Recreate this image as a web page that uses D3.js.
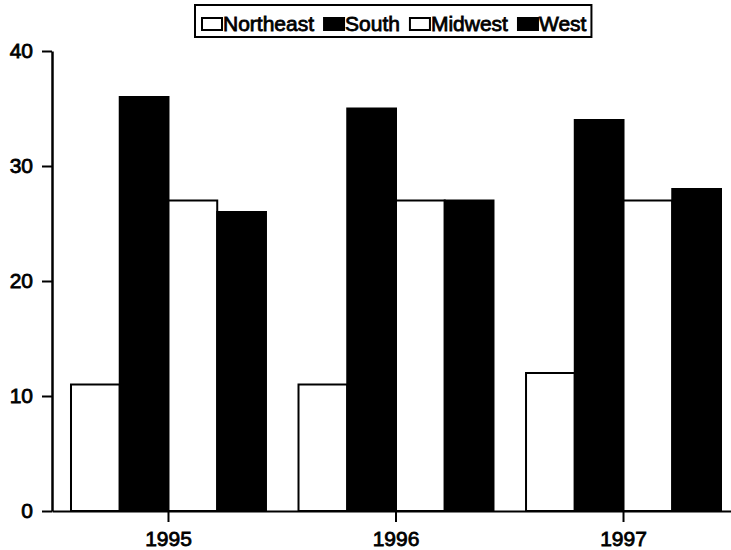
<!DOCTYPE html>
<html>
<head>
<meta charset="utf-8">
<script src="https://cdn.jsdelivr.net/npm/d3@7/dist/d3.min.js"></script>
<style>
  html, body { margin: 0; padding: 0; background: #fff; }
  svg { display: block; }
  text { font-family: "Liberation Sans", Arial, Helvetica, sans-serif; fill: #000; }
</style>
</head>
<body>
<svg id="chart" width="731" height="550"></svg>
<script>
const years = ["1995", "1996", "1997"];
const seriesNames = ["Northeast", "South", "Midwest", "West"];
const northeast = [11, 11, 12];
const south = [36, 35, 34];
const midwest = [27, 27, 27];
const west = [26, 27, 28];
const yTicks = [0, 10, 20, 30, 40];
const seriesFill = ["#fff", "#000", "#fff", "#000"];

const values = [northeast, south, midwest, west];
const rows = years.map((yr, i) => ({
  year: yr,
  vals: seriesNames.map((s, j) => ({ key: s, idx: j, value: values[j][i] }))
}));

const svg = d3.select("#chart");

const x0 = d3.scaleBand().domain(years).range([52, 740]).paddingInner(0.143).paddingOuter(0.0835);
const x1 = d3.scaleBand().domain(seriesNames).range([0, x0.bandwidth()]);
const y = d3.scaleLinear().domain([0, 40]).range([511, 51]);

const textStroke = 0.8;

// bars
const g = svg.append("g");
g.selectAll("g.grp").data(rows).join("g")
  .attr("class", "grp")
  .attr("transform", d => `translate(${x0(d.year)},0)`)
  .selectAll("rect").data(d => d.vals).join("rect")
  .attr("x", d => x1(d.key))
  .attr("y", d => y(d.value))
  .attr("width", x1.bandwidth())
  .attr("height", d => y(0) - y(d.value))
  .attr("fill", d => seriesFill[d.idx])
  .attr("stroke", "#000")
  .attr("stroke-width", 2);

// x axis
const xAxis = svg.append("g")
  .attr("transform", `translate(0,${y(0)})`)
  .call(d3.axisBottom(x0).tickSize(11).tickSizeOuter(0).tickPadding(9));
xAxis.select(".domain").attr("stroke", "#000").attr("stroke-width", 2.2);
xAxis.selectAll(".tick line").attr("stroke", "#000").attr("stroke-width", 2);
xAxis.selectAll(".tick text")
  .style("font-family", '"Liberation Sans", Arial, sans-serif')
  .style("font-size", "21px")
  .attr("stroke", "#000").attr("stroke-width", textStroke);

// y axis
const yAxis = svg.append("g")
  .attr("transform", `translate(52,0)`)
  .call(d3.axisLeft(y).tickValues(yTicks).tickFormat(d3.format("d")).tickSize(10).tickSizeOuter(0).tickPadding(9));
yAxis.select(".domain").attr("stroke", "#000").attr("stroke-width", 2.5);
yAxis.selectAll(".tick line").attr("stroke", "#000").attr("stroke-width", 2);
yAxis.selectAll(".tick text")
  .style("font-family", '"Liberation Sans", Arial, sans-serif')
  .style("font-size", "21px")
  .attr("stroke", "#000").attr("stroke-width", textStroke);

// legend
const leg = svg.append("g");
const box = leg.append("rect")
  .attr("fill", "#fff").attr("stroke", "#000").attr("stroke-width", 2);
let cx = 202;
const swW = 20, swH = 12, baseY = 31;
seriesNames.forEach((s, j) => {
  leg.append("rect")
    .attr("x", cx).attr("y", 18).attr("width", swW).attr("height", swH)
    .attr("fill", seriesFill[j]).attr("stroke", "#000").attr("stroke-width", 2);
  const t = leg.append("text")
    .attr("x", cx + swW + 1).attr("y", baseY)
    .style("font-size", "21px")
    .attr("stroke", "#000").attr("stroke-width", textStroke)
    .text(s);
  cx = cx + swW + 1 + t.node().getComputedTextLength() + 10;
});
box.attr("x", 195).attr("y", 5).attr("width", (cx - 10 + 5) - 195).attr("height", 32);
</script>
</body>
</html>
